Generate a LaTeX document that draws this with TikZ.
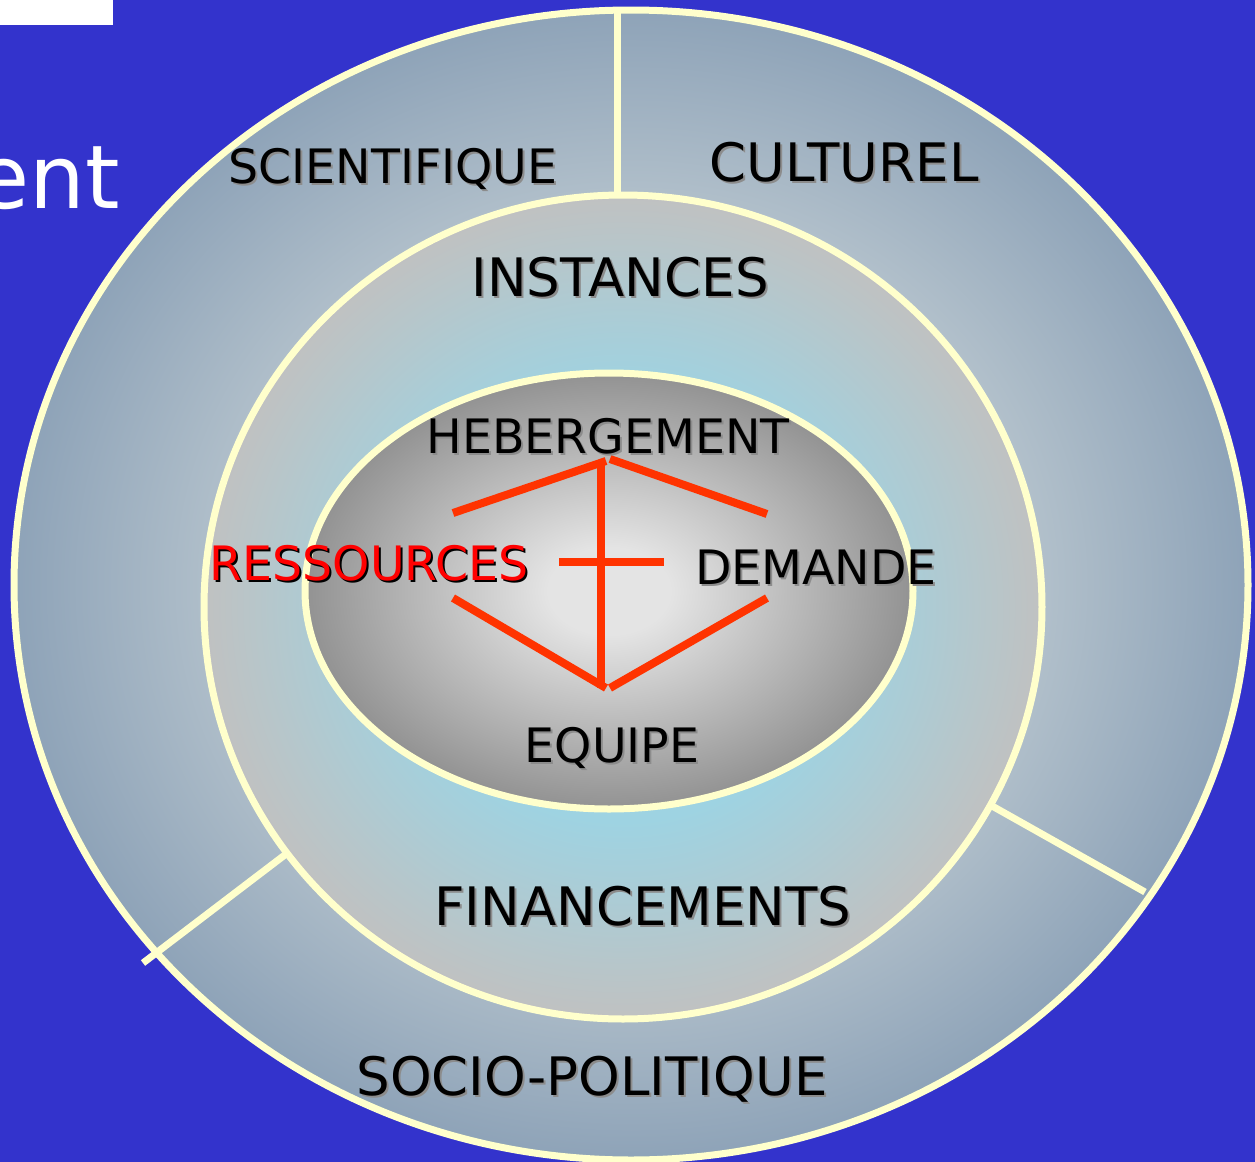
\documentclass[tikz,border=0pt]{standalone}
\usepackage{fontspec}
\setmainfont{DejaVu Sans}
\definecolor{fond}{HTML}{3333CC}
\definecolor{contour}{HTML}{FFFFCC}
\definecolor{croix}{HTML}{FF3300}
\definecolor{ombre}{HTML}{8C8C8C}
\definecolor{anneau-in}{HTML}{B4C2CC}
\definecolor{anneau-out}{HTML}{8EA3B8}
\definecolor{milieu-in}{HTML}{9ED3E2}
\definecolor{milieu-out}{HTML}{C0C1C1}
\definecolor{coeur-in}{HTML}{E4E4E4}
\definecolor{coeur-out}{HTML}{929292}
\pgfdeclareradialshading{anneau}{\pgfpoint{0bp}{0bp}}{color(0bp)=(anneau-in); color(16bp)=(anneau-in); color(25bp)=(anneau-out); color(50bp)=(anneau-out)}
\pgfdeclareradialshading{milieu}{\pgfpoint{0bp}{0bp}}{color(0bp)=(milieu-in); color(13bp)=(milieu-in); color(25bp)=(milieu-out); color(50bp)=(milieu-out)}
\pgfdeclareradialshading{coeur}{\pgfpoint{0bp}{0bp}}{color(0bp)=(coeur-in); color(5bp)=(coeur-in); color(25bp)=(coeur-out); color(50bp)=(coeur-out)}
\newcommand{\petit}{\fontsize{23.7}{28}\selectfont}
\newcommand{\grand}{\fontsize{26.5}{32}\selectfont}
% #1 nom, #2 position, #3 taille, #4 couleur, #5 ombre, #6 texte
\newcommand{\etiquette}[6]{%
  \node[etiq, text=#5, font=#3, xshift=1pt, yshift=-1pt] (#1-ombre) at (#2) {#6};
  \node[etiq, text=#4, font=#3] (#1) at (#2) {#6};
}

\begin{document}
\begin{tikzpicture}[x=0.5pt, y=-0.5pt,
    contour/.style={draw=contour, line width=3.5pt},
    branche/.style={draw=croix, line width=4pt},
    etiq/.style={anchor=base, inner sep=0pt}]
  % Fond
  \fill[fond] (0,0) rectangle (1255,1162);
  \useasboundingbox (0,0) rectangle (1255,1162);
  \fill[white] (0,0) rectangle (113,25);
  \node[etiq, anchor=base east, text=white, font=\fontsize{44}{50}\selectfont] (titre) at (120,208) {ent};
  % Anneau exterieur
  \shade[shading=anneau] (631,585) ellipse [x radius=617, y radius=575];
  \draw[contour] (631,585) ellipse [x radius=617, y radius=575];
  \draw[contour] (617,12) -- (617,200);
  \draw[contour] (143,963) -- (290,851);
  \draw[contour] (985,802) -- (1145,892);
  % Anneau du milieu
  \shade[shading=milieu] (623,607) ellipse [x radius=419, y radius=412];
  \draw[contour] (623,607) ellipse [x radius=419, y radius=412];
  % Coeur
  \shade[shading=coeur] (609,591) ellipse [x radius=304, y radius=218];
  \draw[contour] (609,591) ellipse [x radius=304, y radius=218];
  % Croix
  \coordinate (heb-g) at (606,461);
  \coordinate (heb-d) at (610,459);
  \coordinate (heb-v) at (601,461);
  \coordinate (equ-g) at (606,688);
  \coordinate (equ-d) at (610,688);
  \coordinate (equ-v) at (601,688);
  \coordinate (res-h) at (453,513);
  \coordinate (dem-h) at (767,514);
  \coordinate (res-b) at (453,598);
  \coordinate (dem-b) at (767,598);
  \coordinate (barre-g) at (559,562);
  \coordinate (barre-d) at (664,562);
  \draw[branche] (res-h) -- (heb-g);
  \draw[branche] (heb-d) -- (dem-h);
  \draw[branche] (res-b) -- (equ-g);
  \draw[branche] (equ-d) -- (dem-b);
  \draw[branche] (heb-v) -- (equ-v);
  \draw[branche] (barre-g) -- (barre-d);
  % Etiquettes
  \etiquette{scientifique}{393,183}{\petit}{black}{ombre}{SCIENTIFIQUE}
  \etiquette{culturel}{844,181}{\grand}{black}{ombre}{CULTUREL}
  \etiquette{instances}{620,296}{\grand}{black}{ombre}{INSTANCES}
  \etiquette{hebergement}{608,453}{\petit}{black}{ombre}{HEBERGEMENT}
  \etiquette{ressources}{369,580}{\petit}{red}{black}{RESSOURCES}
  \etiquette{demande}{816,584}{\petit}{black}{ombre}{DEMANDE}
  \etiquette{equipe}{612,762}{\petit}{black}{ombre}{EQUIPE}
  \etiquette{financements}{643,925}{\grand}{black}{ombre}{FINANCEMENTS}
  \etiquette{socio}{592,1095}{\grand}{black}{ombre}{SOCIO-POLITIQUE}
\end{tikzpicture}
\end{document}
